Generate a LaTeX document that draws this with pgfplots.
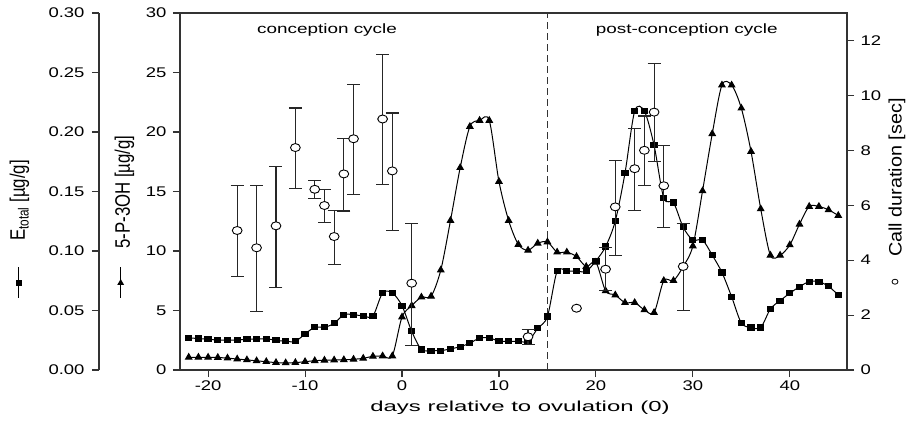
\documentclass[border=0pt]{standalone}
\usepackage{pgfplots}
\pgfplotsset{compat=1.18}
\usetikzlibrary{shapes.geometric}
\usepackage{fontspec}
\setmainfont{Liberation Sans}
\newfontfamily\tickfam{Liberation Sans}[FakeStretch=1.32]
\newfontfamily\xlabfam{Liberation Sans}[FakeStretch=1.65]
\newfontfamily\txtfam{Liberation Sans}[FakeStretch=1.4]
\newfontfamily\leftlabfam{Liberation Sans}[FakeStretch=0.8]
\newfontfamily\rightlabfam{Liberation Sans}[FakeStretch=1.1]
\newcommand\tkf{\tickfam\fontsize{14bp}{16bp}\selectfont}
\tikzset{axframe/.style={draw=black!80, line width=1.5bp}}

\pgfplotstableread{
d  e
-22 0.0269
-21 0.0265
-20 0.0258
-19 0.0252
-18 0.0252
-17 0.0252
-16 0.0258
-15 0.0260
-14 0.0262
-13 0.0250
-12 0.0241
-11 0.0241
-10 0.0303
-9 0.0359
-8 0.0359
-7 0.0392
-6 0.0465
-5 0.0465
-4 0.0454
-3 0.0454
-2 0.0648
-1 0.0648
0 0.0540
1 0.0325
2 0.0172
3 0.0163
4 0.0163
5 0.0177
6 0.0196
7 0.0225
8 0.0269
9 0.0269
10 0.0244
11 0.0241
12 0.0241
13 0.0241
14 0.0350
15 0.0450
16 0.0830
17 0.0830
18 0.0830
19 0.0830
20 0.0917
21 0.1037
22 0.1252
23 0.1655
24 0.2175
25 0.2175
26 0.1888
27 0.1445
28 0.1407
29 0.1200
30 0.1092
31 0.1092
32 0.0965
33 0.0820
34 0.0615
35 0.0395
36 0.0357
37 0.0357
38 0.0513
39 0.0583
40 0.0645
41 0.0700
42 0.0742
43 0.0742
44 0.0703
45 0.0630
}\Etotal

\pgfplotstableread{
d  p
-22 1.07
-21 1.07
-20 1.07
-19 1.05
-18 1.00
-17 0.92
-16 0.85
-15 0.77
-14 0.70
-13 0.62
-12 0.60
-11 0.62
-10 0.70
-9 0.78
-8 0.82
-7 0.84
-6 0.86
-5 0.90
-4 0.98
-3 1.15
-2 1.18
-1 1.18
0 4.45
1 5.40
2 6.12
3 6.20
4 8.40
5 12.56
6 17.00
7 20.46
8 20.97
9 20.97
10 15.84
11 12.56
12 10.55
13 10.06
14 10.65
15 10.76
16 9.90
17 9.90
18 9.53
19 8.69
20 9.05
21 6.65
22 6.30
23 5.66
24 5.66
25 5.05
26 4.82
27 7.51
28 7.51
29 8.69
30 10.42
31 15.05
32 19.85
33 23.94
34 23.94
35 22.00
36 18.36
37 13.54
38 9.64
39 9.64
40 10.51
41 12.25
42 13.74
43 13.74
44 13.46
45 12.98
}\Pthree

\pgfplotstableread{
d  c    ep   em
-17 5.08 1.64 1.68
-15 4.45 2.27 2.33
-13 5.25 2.15 2.23
-11 8.10 1.44 1.49
-9 6.58 0.31 0.35
-8 5.99 0.57 0.62
-7 4.86 0.95 1.02
-6 7.14 1.29 1.35
-5 8.42 1.99 2.04
-2 9.14 2.34 2.40
-1 7.25 2.11 2.17
1 3.16 2.19 2.26
13 1.21 0.27 0.29
21 3.67 0.79 0.79
22 5.94 1.70 1.77
24 7.33 1.47 1.52
25 8.00 1.25 1.29
26 9.39 1.77 1.81
27 6.71 1.47 1.53
29 3.77 1.58 1.61
}\Call

\pgfplotstableread{
d  c
18 2.25
}\CallNoErr

\begin{document}
\begin{tikzpicture}
\useasboundingbox (-180bp,-53bp) rectangle (733bp,370bp);
\pgfplotsset{
  base/.style={at={(0,0)}, anchor=south west, scale only axis,
    width=667bp, height=357bp, xmin=-22.9, xmax=45.9},
}
% main axis: 5-P-3OH
\begin{axis}[base, ymin=0, ymax=30,
  xtick={-20,-10,0,10,20,30,40},
  xticklabels={-20,-10,0,10,20,30,40},
  ytick={0,5,10,15,20,25,30},
  yticklabels={0,5,10,15,20,25,30},
  xtick pos=bottom, ytick pos=left, tick align=outside,
  major tick length=7bp,
  axis line style={axframe},
  tick style={draw=black!80, line width=1.1bp},
  tick label style={font=\tkf},
  yticklabel style={xshift=-3bp},
]
\addplot[black!80, dash pattern=on 7bp off 4bp, line width=0.9bp] coordinates {(15,0) (15,30)};
\addplot[black, line width=1bp, smooth, mark=triangle*, mark size=3.6bp,
  mark options={solid}] table[x=d, y=p] {\Pthree};
\end{axis}
% E_total plotting axis (hidden)
\begin{axis}[base, ymin=0, ymax=0.30, hide axis]
\addplot[black, line width=1bp, smooth, mark=square*, mark size=2.6bp,
  mark options={xscale=1.2}] table[x=d, y=e] {\Etotal};
\end{axis}
% E_total display axis
\begin{axis}[at={(-81bp,0)}, anchor=south west, scale only axis, width=1bp, height=357bp,
  xmin=0, xmax=1, ymin=0, ymax=0.30,
  axis y line*=left, axis x line=none,
  ytick={0,0.05,0.10,0.15,0.20,0.25,0.30},
  yticklabels={0.00,0.05,0.10,0.15,0.20,0.25,0.30},
  tick align=outside, major tick length=7bp,
  axis line style={axframe},
  tick style={draw=black!80, line width=1.1bp},
  tick label style={font=\tkf},
  yticklabel style={xshift=-4bp},
]
\end{axis}
% Call duration axis
\begin{axis}[base, ymin=0, ymax=13,
  axis y line*=right, axis x line=none,
  ytick={0,2,4,6,8,10,12},
  yticklabels={0,2,4,6,8,10,12},
  tick align=outside, major tick length=7bp,
  axis line style={axframe},
  tick style={draw=black!80, line width=1.1bp},
  tick label style={font=\tkf},
  yticklabel style={xshift=3bp},
]
\addplot[only marks, mark=*, mark size=4bp,
  mark options={fill=white, draw=black, line width=0.9bp, xscale=1.22},
  error bars/.cd, y dir=both, y explicit,
  error bar style={line width=1.1bp, black!85},
  error mark options={rotate=90, mark size=6.5bp, line width=1.1bp, black!85}]
  table[x=d, y=c, y error plus=ep, y error minus=em] {\Call};
\addplot[only marks, mark=*, mark size=4bp,
  mark options={fill=white, draw=black, line width=0.9bp, xscale=1.22}]
  table[x=d, y=c] {\CallNoErr};
\end{axis}
% labels
\node[rotate=90, anchor=base] at (-155bp,169.5bp) {\leftlabfam\fontsize{21bp}{24bp}\selectfont E\textsubscript{total} [µg/g]};
\draw[black, line width=1bp] (-161bp,72bp) -- (-161bp,103bp);
\node[fill=black, inner sep=0pt, minimum width=5.5bp, minimum height=5.5bp] at (-161bp,87bp) {};
\node[rotate=90, anchor=base] at (-50bp,178bp) {\leftlabfam\fontsize{21bp}{24bp}\selectfont 5-P-3OH [µg/g]};
\draw[black, line width=1bp] (-59.3bp,72bp) -- (-59.3bp,103bp);
\node[fill=black, regular polygon, regular polygon sides=3, inner sep=0pt, minimum size=8bp] at (-59.3bp,87bp) {};
\node[rotate=90, anchor=base] at (721.7bp,192.5bp) {\rightlabfam\fontsize{18bp}{21bp}\selectfont Call duration [sec]};
\node[draw=black, line width=0.8bp, ellipse, inner sep=0pt, minimum width=6bp, minimum height=5bp] at (715bp,88.3bp) {};
\node[anchor=base] at (340bp,-41.3bp) {\xlabfam\fontsize{14.5bp}{17bp}\selectfont days relative to ovulation (0)};
\node[anchor=base] at (147bp,336.7bp) {\txtfam\fontsize{13.5bp}{16bp}\selectfont conception cycle};
\node[anchor=base] at (506.7bp,336.7bp) {\txtfam\fontsize{13.5bp}{16bp}\selectfont post-conception cycle};
\end{tikzpicture}
\end{document}
